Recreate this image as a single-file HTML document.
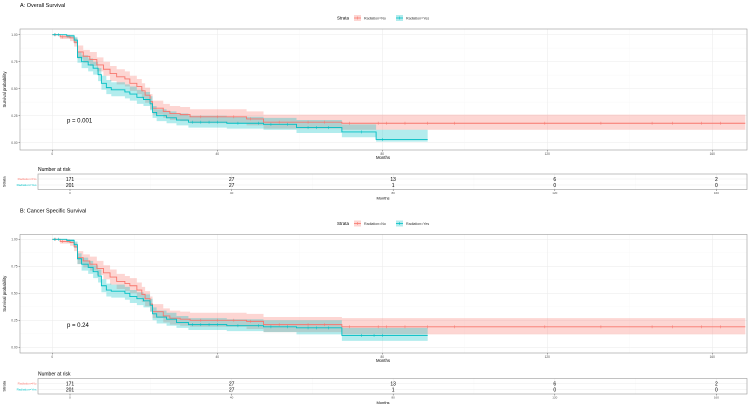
<!DOCTYPE html>
<html><head><meta charset="utf-8"><style>
html,body{margin:0;padding:0;background:#fff;}
svg{display:block;font-family:"Liberation Sans",sans-serif;}
</style></head><body>
<svg id="c" width="750" height="408" viewBox="0 0 750 408" xmlns="http://www.w3.org/2000/svg"></svg>
<script>
// ---- data ----
const xTicks = [0, 40, 80, 120, 160];
const yTicks = [0, 0.25, 0.5, 0.75, 1];
const yTickLabels = ["0.00", "0.25", "0.50", "0.75", "1.00"];
const strata = ["Radiation=No", "Radiation=Yes"];
// Panel A
const aNoTime = [0,1.9,4.3,5.3,6.1,7.5,9.1,10.8,12.4,14,15.6,17.6,18.8,20.5,21.7,22.5,23.7,24.3,26.9,28.5,31,33.4,47.1,51.2,70.2];
const aNoSurv = [1,0.98,0.97,0.93,0.84,0.80,0.77,0.72,0.68,0.64,0.61,0.59,0.55,0.52,0.48,0.44,0.38,0.32,0.29,0.27,0.26,0.24,0.22,0.19,0.18];
const aNoLo   = [1,0.96,0.94,0.89,0.78,0.74,0.71,0.66,0.62,0.57,0.54,0.52,0.48,0.45,0.41,0.37,0.31,0.26,0.23,0.21,0.20,0.18,0.16,0.13,0.12];
const aNoHi   = [1,1.00,0.99,0.97,0.90,0.86,0.84,0.79,0.75,0.71,0.68,0.66,0.62,0.59,0.55,0.51,0.45,0.39,0.36,0.34,0.33,0.31,0.29,0.26,0.26];
const aNoEnd = 168;
const aNoCens = [0.8,2.5,36,40,44,48,55,62,66,72,79,81,85.5,91,97.5,119.4,133,145.4,150.4,157.4,162];
const aYesTime = [0,3.5,5.3,6.1,7.1,8.7,9.9,11.1,11.9,13.1,14.3,17.6,18.8,20.5,22.1,23.7,24.3,25.3,27.7,30.1,33,42.3,51.2,59.2,70.2,78.5];
const aYesSurv = [1,0.99,0.95,0.79,0.75,0.72,0.69,0.63,0.55,0.51,0.49,0.47,0.45,0.42,0.40,0.36,0.28,0.25,0.23,0.21,0.19,0.18,0.17,0.14,0.10,0.03];
const aYesLo   = [1,0.97,0.92,0.74,0.69,0.66,0.63,0.57,0.49,0.45,0.43,0.41,0.39,0.36,0.34,0.30,0.23,0.20,0.18,0.16,0.14,0.13,0.12,0.09,0.05,0.01];
const aYesHi   = [1,1.00,0.98,0.84,0.81,0.78,0.75,0.69,0.62,0.58,0.56,0.54,0.52,0.49,0.47,0.43,0.34,0.31,0.29,0.27,0.25,0.24,0.23,0.21,0.17,0.12];
const aYesEnd = 91;
const aYesCens = [0.5,1.5,34,36,38,40,45,50,53,57,62,64,67,75,80];
// Panel B
const bNoTime = [0,1.9,4.3,5.3,6.1,7.5,9.1,10.8,12.4,14,15.6,17.6,18.8,20.5,21.7,22.5,23.7,24.3,26.9,28.5,31,33.4,47.1,51.2,70.2];
const bNoSurv = [1,0.98,0.97,0.93,0.83,0.80,0.77,0.73,0.69,0.65,0.61,0.59,0.57,0.53,0.49,0.45,0.40,0.33,0.29,0.27,0.26,0.25,0.24,0.21,0.19];
const bNoLo   = [1,0.96,0.94,0.89,0.77,0.74,0.71,0.67,0.63,0.58,0.54,0.52,0.50,0.46,0.42,0.38,0.33,0.27,0.23,0.21,0.20,0.19,0.17,0.14,0.12];
const bNoHi   = [1,1.00,0.99,0.97,0.89,0.86,0.84,0.80,0.76,0.72,0.68,0.66,0.64,0.60,0.56,0.52,0.47,0.40,0.36,0.34,0.33,0.32,0.31,0.28,0.27];
const bNoEnd = 168;
const bNoCens = [0.8,2.5,36,40,44,48,55,62,66,72,79,81,85.5,91,97.5,119.4,133,145.4,150.4,157.4,162];
const bYesTime = [0,3.5,5.3,6.1,7.1,8.7,9.9,11.1,11.9,13.1,14.3,17.6,18.8,20.5,22.1,23.7,24.3,25.3,27.7,30.1,33,42.3,51.2,59.2,70.2];
const bYesSurv = [1,0.99,0.95,0.82,0.77,0.74,0.70,0.66,0.57,0.53,0.52,0.50,0.47,0.45,0.43,0.39,0.31,0.28,0.26,0.23,0.21,0.20,0.19,0.18,0.11];
const bYesLo   = [1,0.97,0.92,0.77,0.71,0.68,0.64,0.60,0.51,0.47,0.46,0.44,0.41,0.39,0.37,0.33,0.25,0.22,0.20,0.18,0.16,0.15,0.14,0.12,0.06];
const bYesHi   = [1,1.00,0.98,0.87,0.83,0.80,0.76,0.72,0.63,0.59,0.58,0.56,0.53,0.51,0.49,0.45,0.37,0.34,0.32,0.29,0.27,0.26,0.25,0.25,0.18];
const bYesEnd = 91;
const bYesCens = [0.5,1.5,34,36,38,40,45,50,53,57,62,64,67,75,78,80];
// risk table
const riskTimes = [0, 40, 80, 120, 160];
const riskNo = [171, 27, 13, 6, 2];
const riskYes = [201, 27, 1, 0, 0];

// ---- drawing ----
const NS = "http://www.w3.org/2000/svg";
const svg = document.getElementById("c");
const RED = "#F8766D", TEAL = "#00BFC4";
function mk(tag, attrs, parent) {
  const e = document.createElementNS(NS, tag);
  for (const k in attrs) e.setAttribute(k, attrs[k]);
  (parent || svg).appendChild(e);
  return e;
}
function txt(s, x, y, size, color, anchor, parent, name) {
  const t = mk("text", {x: x, y: y, "font-size": size, fill: color, "text-anchor": anchor || "start"}, parent);
  t.textContent = s;
  
  
  return t;
}
const X0 = 52.3, XS = 4.125;
const xs = m => X0 + XS * m;
const RX0 = 70, RXS = 4.04;
const rxs = m => RX0 + RXS * m;

function stepPath(times, vals, end, ys) {
  let d = "M" + xs(times[0]) + "," + ys(vals[0]);
  for (let i = 1; i < times.length; i++) {
    d += " H" + xs(times[i]) + " V" + ys(vals[i]);
  }
  d += " H" + xs(end);
  return d;
}
function bandPath(times, lo, hi, end, ys) {
  let top = [], bot = [];
  for (let i = 0; i < times.length; i++) {
    const x1 = xs(times[i]), x2 = xs(i + 1 < times.length ? times[i + 1] : end);
    top.push(x1 + "," + ys(hi[i]), x2 + "," + ys(hi[i]));
    bot.push(x1 + "," + ys(lo[i]), x2 + "," + ys(lo[i]));
  }
  return "M" + top.join(" L") + " L" + bot.reverse().join(" L") + " Z";
}
function valAt(times, vals, t) {
  let v = vals[0];
  for (let i = 0; i < times.length; i++) if (times[i] <= t) v = vals[i];
  return v;
}

function panel(opt) {
  const g = mk("g", {});
  
  
  const top = opt.top, bottom = opt.bottom, y1 = opt.y1, y0 = opt.y0;
  const ys = v => y0 - (y0 - y1) * v;
  txt(opt.title, 20, top - 22, 5.5, "#000", "start", g, "panel-title");
  // legend
  const lg = mk("g", {}, g);
  
  
  const ly = top - 11;
  txt("Strata", 337, ly + 1.5, 4.5, "#000", "start", lg, "legend-title");
  [[RED, strata[0], 354, 364], [TEAL, strata[1], 396, 406]].forEach((s, i) => {
    const r = mk("rect", {x: s[2], y: ly - 3, width: 7, height: 6, fill: s[0], "fill-opacity": 0.3}, lg);
    
    
    mk("line", {x1: s[2], x2: s[2] + 7, y1: ly, y2: ly, stroke: s[0], "stroke-width": 0.8}, lg);
    mk("line", {x1: s[2] + 3.5, x2: s[2] + 3.5, y1: ly - 1.5, y2: ly + 1.5, stroke: s[0], "stroke-width": 0.5}, lg);
    txt(s[1], s[3], ly + 1.3, 3.6, "#333", "start", lg, "legend-label");
  });
  // panel bg + grid
  const bg = mk("rect", {x: 20, y: top, width: 727, height: bottom - top, fill: "#fff"}, g);
  
  
  for (let i = 0; i < yTicks.length; i++) {
    mk("line", {x1: 20, x2: 747, y1: ys(yTicks[i]), y2: ys(yTicks[i]), stroke: "#ebebeb", "stroke-width": 0.5}, g);
    if (i < yTicks.length - 1) {
      const mv = (yTicks[i] + yTicks[i + 1]) / 2;
      mk("line", {x1: 20, x2: 747, y1: ys(mv), y2: ys(mv), stroke: "#f4f4f4", "stroke-width": 0.3}, g);
    }
  }
  for (let i = 0; i < xTicks.length; i++) {
    mk("line", {x1: xs(xTicks[i]), x2: xs(xTicks[i]), y1: top, y2: bottom, stroke: "#ebebeb", "stroke-width": 0.5}, g);
    const mv = xTicks[i] + 20;
    if (xs(mv) < 747) mk("line", {x1: xs(mv), x2: xs(mv), y1: top, y2: bottom, stroke: "#f4f4f4", "stroke-width": 0.3}, g);
  }
  // series
  opt.series.forEach(s => {
    const band = mk("path", {d: bandPath(s.t, s.lo, s.hi, s.end, ys), fill: s.col, "fill-opacity": 0.3, stroke: "none"}, g);
    
    
  });
  opt.series.forEach(s => {
    const line = mk("path", {d: stepPath(s.t, s.v, s.end, ys), fill: "none", stroke: s.col, "stroke-width": 0.9}, g);
    
    
    s.cens.forEach(c => {
      const y = ys(valAt(s.t, s.v, c));
      const m = mk("line", {x1: xs(c), x2: xs(c), y1: y - 1.5, y2: y + 1.5, stroke: s.col, "stroke-width": 0.5}, g);
      
      
    });
  });
  const border = mk("rect", {x: 20, y: top, width: 727, height: bottom - top, fill: "none", stroke: "#999", "stroke-width": 0.6}, g);
  
  
  // axes
  for (let i = 0; i < yTicks.length; i++) {
    mk("line", {x1: 18.5, x2: 20, y1: ys(yTicks[i]), y2: ys(yTicks[i]), stroke: "#333", "stroke-width": 0.4}, g);
    txt(yTickLabels[i], 17.5, ys(yTicks[i]) + 1.2, 3.2, "#4d4d4d", "end", g, "y-tick-label");
  }
  for (let i = 0; i < xTicks.length; i++) {
    mk("line", {x1: xs(xTicks[i]), x2: xs(xTicks[i]), y1: bottom, y2: bottom + 1.5, stroke: "#333", "stroke-width": 0.4}, g);
    txt(String(xTicks[i]), xs(xTicks[i]), bottom + 4.8, 3.2, "#4d4d4d", "middle", g, "x-tick-label");
  }
  txt("Months", 383, bottom + 9, 4.3, "#000", "middle", g, "x-axis-title");
  const yt = txt("Survival probability", 0, 0, 4.3, "#000", "middle", g, "y-axis-title");
  yt.setAttribute("transform", "translate(6," + ((top + bottom) / 2) + ") rotate(-90)");
  txt(opt.p, 67, ys(0.2) + 1.5, 6, "#000", "start", g, "p-value");
  // risk table
  const rt = opt.rtTop, rb = opt.rtTop + 15.5;
  const rg = mk("g", {}, g);
  
  
  txt("Number at risk", 38, rt - 3, 5, "#000", "start", rg, "risk-table-title");
  for (let i = 0; i < riskTimes.length; i++) {
    mk("line", {x1: rxs(riskTimes[i]), x2: rxs(riskTimes[i]), y1: rt, y2: rb, stroke: "#ebebeb", "stroke-width": 0.5}, rg);
    if (rxs(riskTimes[i] + 20) < 747) mk("line", {x1: rxs(riskTimes[i] + 20), x2: rxs(riskTimes[i] + 20), y1: rt, y2: rb, stroke: "#f4f4f4", "stroke-width": 0.3}, rg);
  }
  const r1 = rt + 5, r2 = rt + 11;
  mk("line", {x1: 38, x2: 747, y1: r1, y2: r1, stroke: "#ebebeb", "stroke-width": 0.5}, rg);
  mk("line", {x1: 38, x2: 747, y1: r2, y2: r2, stroke: "#ebebeb", "stroke-width": 0.5}, rg);
  mk("rect", {x: 38, y: rt, width: 709, height: rb - rt, fill: "none", stroke: "#999", "stroke-width": 0.6}, rg);
  for (let i = 0; i < riskTimes.length; i++) {
    txt(String(riskNo[i]), rxs(riskTimes[i]), r1 + 1.8, 5, "#000", "middle", rg, "risk-count-no");
    txt(String(riskYes[i]), rxs(riskTimes[i]), r2 + 1.8, 5, "#000", "middle", rg, "risk-count-yes");
    mk("line", {x1: rxs(riskTimes[i]), x2: rxs(riskTimes[i]), y1: rb, y2: rb + 1.5, stroke: "#333", "stroke-width": 0.4}, rg);
    txt(String(riskTimes[i]), rxs(riskTimes[i]), rb + 4.5, 3, "#4d4d4d", "middle", rg, "risk-x-tick-label");
  }
  txt(strata[0], 36.5, r1 + 1.1, 3.1, RED, "end", rg, "risk-row-label-no");
  txt(strata[1], 36.5, r2 + 1.1, 3.1, TEAL, "end", rg, "risk-row-label-yes");
  const st = txt("Strata", 0, 0, 4, "#000", "middle", rg, "risk-y-title");
  st.setAttribute("transform", "translate(5.5," + ((rt + rb) / 2) + ") rotate(-90)");
  txt("Months", 383, rb + 10, 4, "#000", "middle", rg, "risk-x-title");
}

panel({name: "panel-a-overall-survival", title: "A: Overall Survival", top: 29, bottom: 150, y1: 34.7, y0: 142.7, p: "p = 0.001", rtTop: 174,
  series: [
    {key: "radiation-no", col: RED, t: aNoTime, v: aNoSurv, lo: aNoLo, hi: aNoHi, end: aNoEnd, cens: aNoCens},
    {key: "radiation-yes", col: TEAL, t: aYesTime, v: aYesSurv, lo: aYesLo, hi: aYesHi, end: aYesEnd, cens: aYesCens}
  ]});
panel({name: "panel-b-cancer-specific-survival", title: "B: Cancer Specific Survival", top: 234.5, bottom: 353, y1: 239.3, y0: 347.3, p: "p = 0.24", rtTop: 378.5,
  series: [
    {key: "radiation-no", col: RED, t: bNoTime, v: bNoSurv, lo: bNoLo, hi: bNoHi, end: bNoEnd, cens: bNoCens},
    {key: "radiation-yes", col: TEAL, t: bYesTime, v: bYesSurv, lo: bYesLo, hi: bYesHi, end: bYesEnd, cens: bYesCens}
  ]});
</script>
</body></html>
